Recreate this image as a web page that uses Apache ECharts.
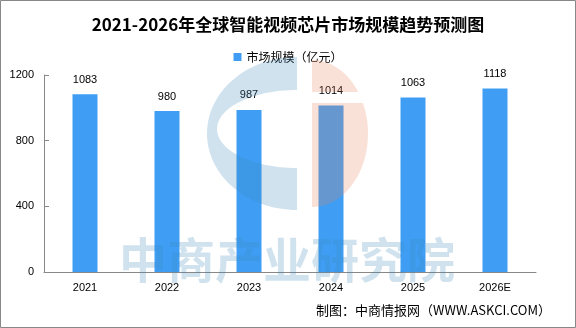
<!DOCTYPE html>
<html>
<head>
<meta charset="utf-8">
<style>
  html, body { margin: 0; padding: 0; background: #fff; }
  #chart { width: 576px; height: 328px; }
</style>
<script src="https://cdn.jsdelivr.net/npm/echarts@6/dist/echarts.min.js"></script>
</head>
<body>
<div id="chart"></div>
<script>
// 数据
const years = ['2021', '2022', '2023', '2024', '2025', '2026E']
const marketSize = [1083, 980, 987, 1014, 1063, 1118] // 亿元
const yMin = 0
const yMax = 1200
const yStep = 400

const cnFont = '"Noto Sans CJK SC", sans-serif'
const numFont = '"Liberation Sans", Arial, sans-serif'

// 水印的椭圆弧点
function arcPts(cx, cy, rx, ry, a0, a1, n) {
  const pts = []
  for (let i = 0; i <= n; i++) {
    const a = (a0 + (a1 - a0) * i / n) * Math.PI / 180
    pts.push([cx + rx * Math.cos(a), cy + ry * Math.sin(a)])
  }
  return pts
}

// 蓝色 C 形
const cShape = arcPts(297, 133.5, 90, 76.5, 270, 90, 60)
  .concat(arcPts(297, 129, 80, 39, 90, 270, 60))
// 橙色半圆（中间有缺口）
const aTop = Math.asin((92 - 133.5) / 73.5) * 180 / Math.PI
const aBot = Math.asin((103 - 133.5) / 73.5) * 180 / Math.PI
const dUpper = arcPts(312, 133.5, 56, 73.5, -90, aTop, 30).concat([[312, 92]])
const dLower = arcPts(312, 133.5, 56, 73.5, aBot, 90, 50).concat([[312, 103]])

const wmBlue = 'rgba(60, 135, 185, 0.24)'
const wmRed = 'rgba(235, 131, 91, 0.24)'

const myChart = echarts.init(document.getElementById('chart'))

const option = {
  backgroundColor: '#fff',
  animation: false,
  title: {
    text: '2021-2026年全球智能视频芯片市场规模趋势预测图',
    left: 'center',
    top: 11,
    textStyle: {
      fontFamily: cnFont,
      fontSize: 17,
      fontWeight: 'bold',
      color: '#000'
    }
  },
  legend: {
    data: ['市场规模（亿元）'],
    left: 'center',
    top: 46,
    icon: 'rect',
    itemWidth: 8,
    itemHeight: 8,
    itemGap: 10,
    textStyle: {
      fontFamily: cnFont,
      fontSize: 12,
      color: '#000'
    }
  },
  grid: {
    left: 44,
    right: 40,
    top: 75,
    bottom: 56,
    containLabel: false
  },
  xAxis: {
    type: 'category',
    data: years,
    axisLine: { lineStyle: { color: '#888', width: 1 } },
    axisTick: { inside: true, length: 7, lineStyle: { color: '#888' } },
    axisLabel: {
      margin: 10,
      fontFamily: numFont,
      fontSize: 11,
      color: '#000'
    }
  },
  yAxis: {
    type: 'value',
    min: yMin,
    max: yMax,
    interval: yStep,
    splitLine: { show: false },
    axisLine: { show: true, lineStyle: { color: '#888', width: 1 } },
    axisTick: { show: true, inside: true, length: 5, lineStyle: { color: '#888' } },
    axisLabel: {
      margin: 10,
      fontFamily: numFont,
      fontSize: 11,
      color: '#000',
      formatter: v => String(v)
    }
  },
  series: [
    {
      name: '市场规模（亿元）',
      type: 'bar',
      data: marketSize,
      barWidth: 25,
      itemStyle: { color: '#3f9ef4' },
      label: {
        show: true,
        position: 'top',
        distance: 9,
        fontFamily: numFont,
        fontSize: 11,
        color: '#000'
      }
    }
  ],
  graphic: [
    {
      type: 'rect',
      z: 200,
      silent: true,
      shape: { x: 0.5, y: 0.5, width: 575, height: 327 },
      style: { fill: 'none', stroke: '#888', lineWidth: 1 }
    },
    {
      type: 'polygon',
      z: 100,
      silent: true,
      shape: { points: cShape },
      style: { fill: wmBlue }
    },
    {
      type: 'polygon',
      z: 100,
      silent: true,
      shape: { points: dUpper },
      style: { fill: wmRed }
    },
    {
      type: 'polygon',
      z: 100,
      silent: true,
      shape: { points: dLower },
      style: { fill: wmRed }
    },
    {
      type: 'text',
      z: 100,
      silent: true,
      x: 287,
      y: 260,
      style: {
        text: '中商产业研究院',
        font: 'bold 48px ' + cnFont,
        fill: wmBlue,
        textAlign: 'center',
        textVerticalAlign: 'middle'
      }
    },
    {
      type: 'text',
      z: 150,
      silent: true,
      x: 551,
      y: 310,
      style: {
        text: '制图：中商情报网（WWW.ASKCI.COM）',
        font: '13px ' + cnFont,
        fill: '#000',
        textAlign: 'right',
        textVerticalAlign: 'middle'
      }
    }
  ]
}

myChart.setOption(option)
</script>
</body>
</html>
